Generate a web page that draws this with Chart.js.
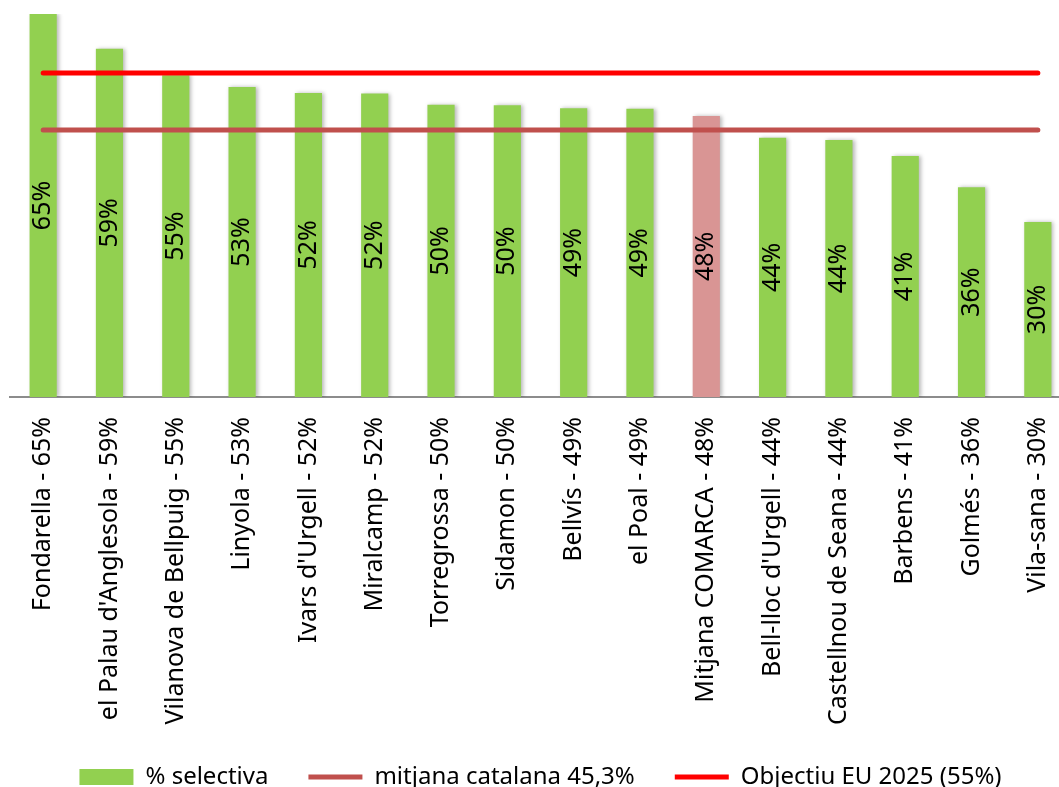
<!DOCTYPE html>
<html>
<head>
<meta charset="utf-8">
<script src="https://cdn.jsdelivr.net/npm/chart.js@4"></script>
<style>
  body { margin: 0; overflow: hidden; background: #fff; }
  #wrap { position: absolute; left: 0; top: 0; width: 1080px; height: 799px; }
</style>
</head>
<body>
<div id="wrap"><canvas id="myChart"></canvas></div>
<script>
const municipis = [
  "Fondarella - 65%",
  "el Palau d'Anglesola - 59%",
  "Vilanova de Bellpuig - 55%",
  "Linyola - 53%",
  "Ivars d'Urgell - 52%",
  "Miralcamp - 52%",
  "Torregrossa - 50%",
  "Sidamon - 50%",
  "Bellvís - 49%",
  "el Poal - 49%",
  "Mitjana COMARCA - 48%",
  "Bell-lloc d'Urgell - 44%",
  "Castellnou de Seana - 44%",
  "Barbens - 41%",
  "Golmés - 36%",
  "Vila-sana - 30%"
]
const selectiva = [65.0, 59.1, 54.6, 52.6, 51.6, 51.5, 49.6, 49.5, 49.0, 48.9, 47.7, 44.0, 43.6, 40.9, 35.6, 29.7]
const mitjanaCatalana = [45.3, 45.3, 45.3, 45.3, 45.3, 45.3, 45.3, 45.3, 45.3, 45.3, 45.3, 45.3, 45.3, 45.3, 45.3, 45.3]
const objectiuEU = [55, 55, 55, 55, 55, 55, 55, 55, 55, 55, 55, 55, 55, 55, 55, 55]

const font = "'Noto Sans', 'Open Sans', sans-serif"
const green = '#92D050'
const comarca = '#D99594'

// colour of every bar, the comarca average is pink
const barColors = municipis.map(m => m.includes('COMARCA') ? comarca : green)

// shadow under the bars + value written inside each bar
const barText = {
  id: 'barText',
  beforeDatasetDraw(chart, args) {
    if (args.index !== 0) return
    const c = chart.ctx
    c.save()
    c.shadowColor = 'rgba(0,0,0,0.28)'
    c.shadowBlur = 4
    c.shadowOffsetX = 2
  },
  afterDatasetDraw(chart, args) {
    if (args.index !== 0) return
    const c = chart.ctx
    c.restore()
    c.save()
    c.font = '25px ' + font
    c.fillStyle = '#000'
    c.textAlign = 'center'
    c.textBaseline = 'middle'
    args.meta.data.forEach((bar, i) => {
      const mid = (bar.y + bar.base) / 2
      c.save()
      c.translate(bar.x, mid)
      c.rotate(-Math.PI / 2)
      c.fillText(Math.round(selectiva[i]) + '%', 0, 0)
      c.restore()
    })
    c.restore()
  }
}

const ctx = document.getElementById('myChart').getContext('2d')
const myChart = new Chart(ctx, {
  type: 'bar',
  data: {
    labels: municipis,
    datasets: [{
      label: '% selectiva',
      data: selectiva,
      backgroundColor: barColors,
      borderWidth: 0,
      barPercentage: 0.41,
      categoryPercentage: 1,
      pointStyle: 'rect',
      order: 3
    }, {
      type: 'line',
      label: 'mitjana catalana 45,3%',
      data: mitjanaCatalana,
      borderColor: '#C0504D',
      backgroundColor: '#C0504D',
      borderWidth: 5,
      borderCapStyle: 'round',
      pointRadius: 0,
      pointStyle: 'line',
      order: 2
    }, {
      type: 'line',
      label: 'Objectiu EU 2025 (55%)',
      data: objectiuEU,
      borderColor: '#FF0000',
      backgroundColor: '#FF0000',
      borderWidth: 5,
      borderCapStyle: 'round',
      pointRadius: 0,
      pointStyle: 'line',
      order: 1
    }]
  },
  options: {
    responsive: true,
    maintainAspectRatio: false,
    animation: false,
    layout: { padding: { left: 10, right: 9, top: 14, bottom: 0 } },
    plugins: {
      tooltip: { enabled: false },
      legend: {
        position: 'bottom',
        labels: {
          usePointStyle: true,
          pointStyleWidth: 54,
          boxHeight: 16,
          padding: 40,
          color: '#000',
          font: { family: font, size: 24 },
          sort: (a, b) => a.datasetIndex - b.datasetIndex
        }
      }
    },
    scales: {
      x: {
        grid: { drawOnChartArea: false, drawTicks: true, tickLength: 20, color: 'transparent' },
        border: { color: '#8c8c8c', width: 2 },
        ticks: {
          minRotation: 90,
          maxRotation: 90,
          autoSkip: false,
          padding: 0,
          color: '#000',
          font: { family: font, size: 25 }
        }
      },
      y: {
        display: false,
        min: 0,
        max: 65
      }
    }
  },
  plugins: [barText]
})
</script>
</body>
</html>
